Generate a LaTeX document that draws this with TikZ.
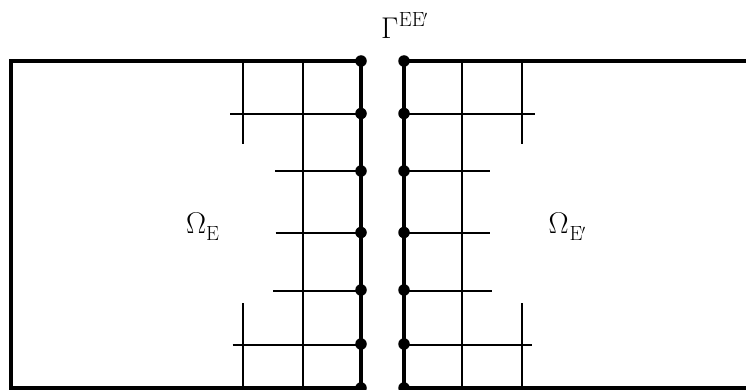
\documentclass[tikz,border=0pt]{standalone}
\usepackage{fix-cm}
\newcommand{\bigsz}{\fontsize{30}{30}\selectfont}
\newcommand{\smsz}{\fontsize{20.5}{20.5}\selectfont}
\newcommand{\primemark}{\raisebox{6pt}{\fontsize{13}{13}\selectfont$\prime$}}
\tikzset{
  thinline/.style={line width=2pt,black},
  thickline/.style={line width=4pt,black,line cap=butt},
  dotnode/.style={circle,fill=black,inner sep=0pt,minimum size=11.5pt},
  lab/.style={inner sep=0pt,black,font=\bigsz}
}
\begin{document}
\begin{tikzpicture}[x=1pt,y=-1pt]
\useasboundingbox (0,0) rectangle (746,390);
% dots on the two interface lines
\foreach \n/\y in {a/61,b/113.5,c/171,d/232.5,e/290,f/344,g/388}{
  \node[dotnode] (L\n) at (361,\y) {};
  \node[dotnode] (R\n) at (404,\y) {};
}
% corners and free ends
\coordinate (TL) at (11,61);
\coordinate (BL) at (11,388);
\coordinate (TR) at (746,61);
\coordinate (BR) at (746,388);
% thin verticals
\coordinate (v1t) at (243,61); \coordinate (v1b) at (243,144);
\coordinate (v2t) at (243,303); \coordinate (v2b) at (243,388);
\coordinate (v3t) at (302.5,61); \coordinate (v3b) at (302.5,388);
\coordinate (v4t) at (462,61); \coordinate (v4b) at (462,388);
\coordinate (v5t) at (521.5,61); \coordinate (v5b) at (521.5,144);
\coordinate (v6t) at (521.5,303); \coordinate (v6b) at (521.5,388);
\foreach \p/\q in {v1t/v1b,v2t/v2b,v3t/v3b,v4t/v4b,v5t/v5b,v6t/v6b}
  \draw[thinline] (\p) -- (\q);
% thin horizontals
\coordinate (hb1) at (230,114.5); \coordinate (hb2) at (535,114.5);
\coordinate (hc1) at (275,171.5); \coordinate (hc2) at (490,171.5);
\coordinate (hd1) at (275.7,233); \coordinate (hd2) at (489.5,233);
\coordinate (he1) at (273,290.5); \coordinate (he2) at (492,290.5);
\coordinate (hf1) at (232.5,344.5); \coordinate (hf2) at (532,344.5);
\foreach \n in {b,c,d,e,f}{
  \draw[thinline] (h\n1) -- (L\n.center |- h\n1);
  \draw[thinline] (R\n.center |- h\n2) -- (h\n2);
}
% thick borders
\draw[thickline,line join=miter] (La.center) -- (TL) -- (BL) -- (Lg.center);
\draw[thickline] (La.center) -- (Lg.center);
\draw[thickline] (Ra.center) -- (TR);
\draw[thickline] (Rg.center) -- (BR);
\draw[thickline] (Ra.center) -- (Rg.center);
% labels
\node[lab,anchor=base west] (gamma) at (381,39) {$\Gamma$\kern0.5pt\raisebox{12.5pt}{\smsz EE\kern-1pt\primemark}};
\node[lab,anchor=base west] (omegaL) at (186,233) {$\Omega$\raisebox{-7.5pt}{\smsz E}};
\node[lab,anchor=base west] (omegaR) at (548.5,233) {$\Omega$\kern1pt\raisebox{-7.5pt}{\smsz E\kern-1pt\primemark}};
\end{tikzpicture}
\end{document}
